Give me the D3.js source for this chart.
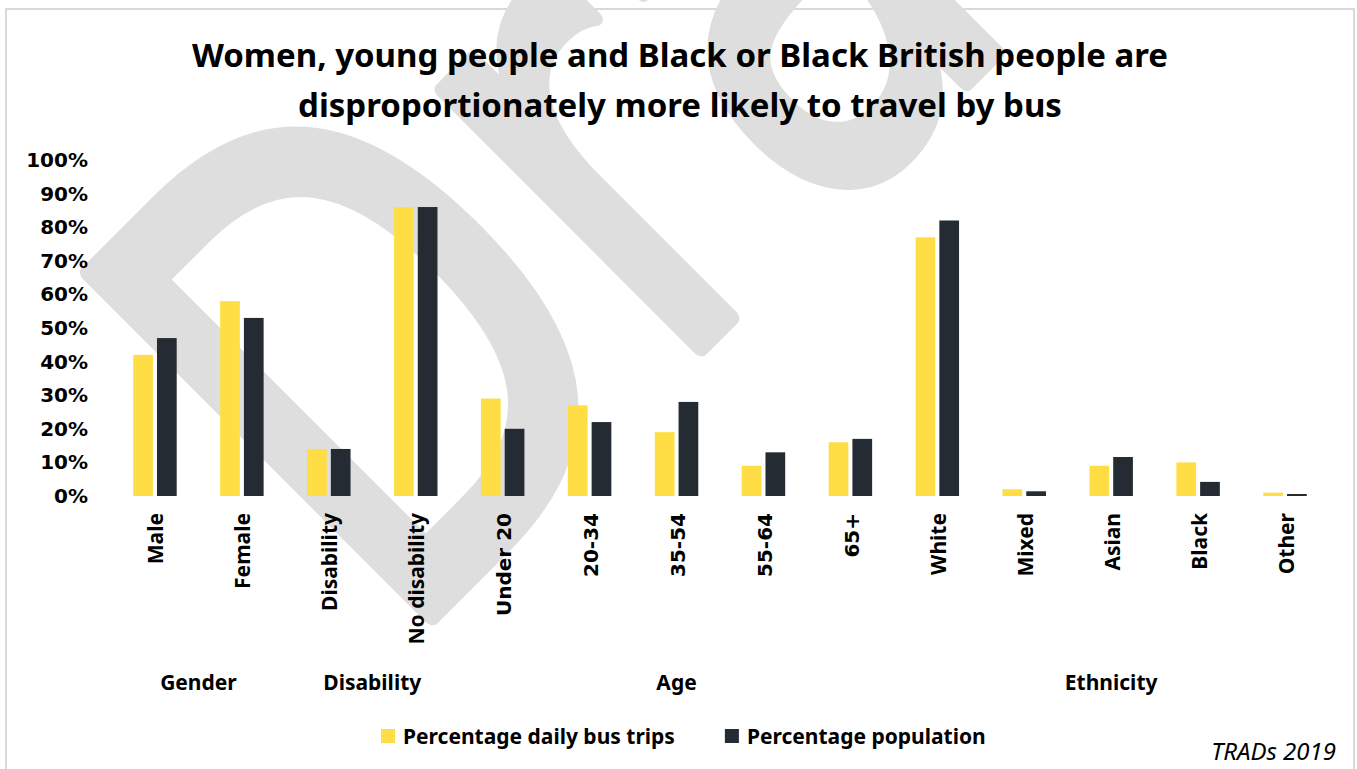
<!DOCTYPE html>
<html>
<head>
<meta charset="utf-8">
<script src="https://cdn.jsdelivr.net/npm/d3@7"></script>
<style>
  html, body { margin: 0; padding: 0; background: #fff; }
  svg { display: block; }
</style>
</head>
<body>
<svg id="chart" width="1357" height="769"></svg>
<script>
// ---- Data ----
const categories = ["Male", "Female", "Disability", "No disability", "Under 20", "20-34", "35-54", "55-64", "65+", "White", "Mixed", "Asian", "Black", "Other"];
const busTrips   = [42, 58, 14, 86, 29, 27, 19, 9, 16, 77, 2, 9, 10, 1];
const population = [47, 53, 14, 86, 20, 22, 28, 13, 17, 82, 1.4, 11.6, 4.2, 0.6];
const seriesNames = ["Percentage daily bus trips", "Percentage population"];
const groups = [
  { name: "Gender",     first: "Male",       last: "Female" },
  { name: "Disability", first: "Disability", last: "No disability" },
  { name: "Age",        first: "Under 20",   last: "65+" },
  { name: "Ethnicity",  first: "White",      last: "Other" }
];
const yTicks = [0, 10, 20, 30, 40, 50, 60, 70, 80, 90, 100];
const titleLines = ["Women, young people and Black or Black British people are", "disproportionately more likely to travel by bus"];
const sourceText = "TRADs 2019";
const watermark = "Draft";

// ---- Styles ----
const colors = ["#FFDE45", "#242B33"];
const fontMain = "'Noto Sans', 'Open Sans', sans-serif";
const fontTick = "'DejaVu Sans', sans-serif";

const svg = d3.select("#chart");

// frame
svg.append("rect").attr("x", 6).attr("y", 9).attr("width", 1348).attr("height", 800)
  .attr("fill", "#fff").attr("stroke", "#d9d9d9").attr("stroke-width", 2);

// watermark (behind the chart)
svg.append("text")
  .attr("transform", "translate(396,652) rotate(-45) scale(0.75,1)")
  .attr("font-family", "'DejaVu Sans', sans-serif")
  .attr("font-weight", 400)
  .attr("font-size", 665)
  .attr("fill", "#dedede")
  .attr("stroke", "#dedede").attr("stroke-width", 18).attr("stroke-linejoin", "round")
  .text(watermark);

// title
svg.append("g").selectAll("text").data(titleLines).join("text")
  .attr("x", 680).attr("y", (d, i) => 67 + i * 50)
  .attr("text-anchor", "middle")
  .attr("font-family", fontMain).attr("font-weight", 700).attr("font-size", 33)
  .attr("fill", "#000")
  .text(d => d);

// scales
const x0 = d3.scaleBand().domain(categories).range([111.5, 1328.5]).paddingInner(0).paddingOuter(0);
const bw0 = x0.bandwidth();
const x1 = d3.scaleBand().domain(seriesNames).range([bw0 / 4, bw0 * 3 / 4]).paddingInner(0.17).paddingOuter(0);
const y = d3.scaleLinear().domain([0, 100]).range([496, 160]);

// y axis
const yAxis = svg.append("g").attr("transform", "translate(111,0)")
  .call(d3.axisLeft(y).tickValues(yTicks).tickFormat(d => d + "%").tickSize(0).tickPadding(23));
yAxis.select(".domain").remove();
yAxis.selectAll("text").attr("font-family", fontTick).attr("font-weight", 700).attr("font-size", 20).attr("fill", "#000");

// bars
const data = categories.map((c, i) => ({ cat: c, vals: [busTrips[i], population[i]] }));
const gCat = svg.append("g").selectAll("g").data(data).join("g")
  .attr("transform", d => `translate(${x0(d.cat)},0)`);
gCat.selectAll("rect").data(d => d.vals.map((v, j) => ({ v, s: seriesNames[j], j })))
  .join("rect")
  .attr("x", d => x1(d.s))
  .attr("width", x1.bandwidth())
  .attr("y", d => y(d.v))
  .attr("height", d => y(0) - y(d.v))
  .attr("fill", d => colors[d.j]);

// category labels
svg.append("g").selectAll("text").data(categories).join("text")
  .attr("transform", d => `translate(${x0(d) + bw0 / 2 + 8.5},513) rotate(-90)`)
  .attr("text-anchor", "end")
  .attr("font-family", d => /\d/.test(d) ? fontTick : fontMain)
  .attr("font-weight", 700)
  .attr("font-size", d => /\d/.test(d) ? 20 : 21)
  .attr("fill", "#000")
  .text(d => d);

// group labels
svg.append("g").selectAll("text").data(groups).join("text")
  .attr("x", d => (x0(d.first) + x0(d.last) + bw0) / 2)
  .attr("y", 690)
  .attr("text-anchor", "middle")
  .attr("font-family", fontMain).attr("font-weight", 700).attr("font-size", 21)
  .attr("fill", "#000")
  .text(d => d.name);

// legend
const legend = svg.append("g");
let lx = 381;
seriesNames.forEach((s, i) => {
  legend.append("rect").attr("x", lx).attr("y", 729).attr("width", 14).attr("height", 14).attr("fill", colors[i]);
  const t = legend.append("text").attr("x", lx + 22).attr("y", 744)
    .attr("font-family", fontMain).attr("font-weight", 700).attr("font-size", 21)
    .attr("fill", "#000").text(s);
  lx = lx + 22 + t.node().getComputedTextLength() + 50;
});

// source
svg.append("text").attr("x", 1336).attr("y", 760).attr("text-anchor", "end")
  .attr("font-family", fontMain).attr("font-style", "italic").attr("font-size", 24)
  .attr("fill", "#000").text(sourceText);
</script>
</body>
</html>
